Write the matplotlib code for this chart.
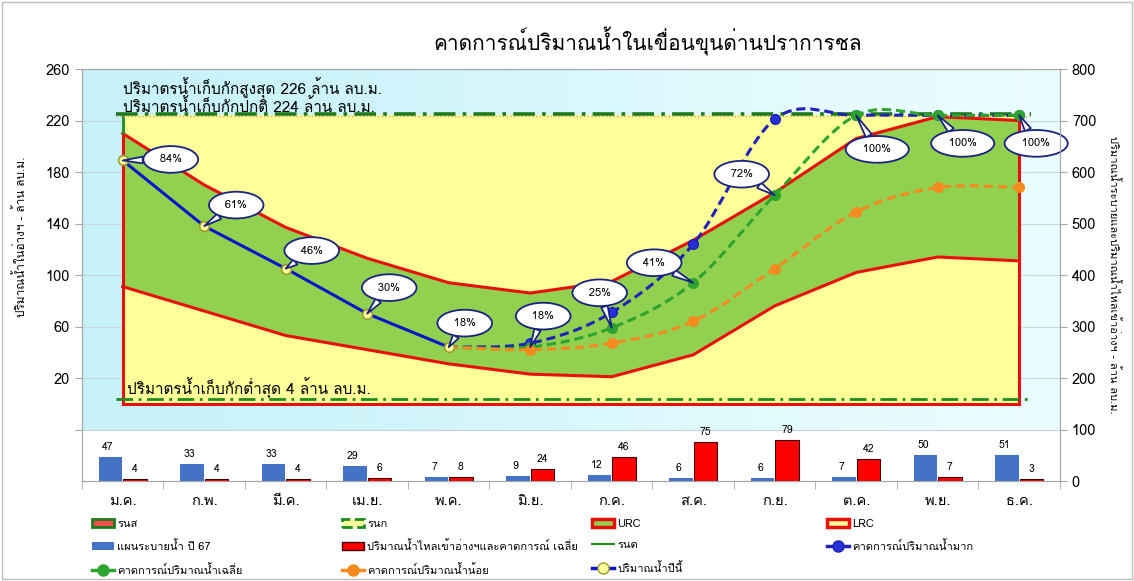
import numpy as np
import matplotlib
matplotlib.use('Agg')
import matplotlib.pyplot as plt
from matplotlib import font_manager as fm
from matplotlib.ft2font import FT2Font
from matplotlib.path import Path
from matplotlib.patches import PathPatch, Patch, Rectangle
from matplotlib.lines import Line2D

# cerco un font che abbia i glifi thai
thai = None
for f in fm.fontManager.ttflist:
    try:
        if FT2Font(f.fname).get_char_index(0x0E01):
            thai = f.name
            break
    except Exception:
        pass
plt.rcParams['font.family'] = [thai, 'DejaVu Sans'] if thai else ['DejaVu Sans']

# dati
months = ['ม.ค.', 'ก.พ.', 'มี.ค.', 'เม.ย.', 'พ.ค.', 'มิ.ย.', 'ก.ค.', 'ส.ค.', 'ก.ย.', 'ต.ค.', 'พ.ย.', 'ธ.ค.']
urc = [210, 170, 137, 113, 94, 86, 95, 127, 164, 206, 223, 220]
lrc = [91, 72, 53, 42, 31, 23, 21, 38, 76, 102, 114, 111]
drain = [47, 33, 33, 29, 7, 9, 12, 6, 6, 7, 50, 51]
inflow = [4, 4, 4, 6, 8, 24, 46, 75, 79, 42, 7, 3]
current = [189, 138, 105, 70, 44]
current_pct = ['84%', '61%', '46%', '30%', '18%']
fc_high = [44, 47, 71, 124, 221, 224, 224, 224]   # da พ.ค. a ธ.ค.
fc_avg = [44, 44, 59, 94, 162, 224, 224, 224]
fc_low = [44, 42, 47, 64, 105, 149, 168, 168]
avg_pct = ['18%', '25%', '41%', '72%', '100%', '100%', '100%']
max_storage = 226
normal_storage = 224
min_storage = 4

x = np.arange(12)
xf = np.arange(4, 12)


def smooth(xs, ys):
    # curva morbida tipo excel (bezier catmull-rom)
    p = np.column_stack([xs, ys]).astype(float)
    n = len(p)
    verts = [p[0]]
    codes = [Path.MOVETO]
    for i in range(n - 1):
        p0 = p[i - 1] if i > 0 else p[i]
        p3 = p[i + 2] if i + 2 < n else p[i + 1]
        verts += [p[i] + (p[i + 1] - p0) / 6, p[i + 1] - (p3 - p[i]) / 6, p[i + 1]]
        codes += [Path.CURVE4] * 3
    return Path(verts, codes)


fig = plt.figure(figsize=(11.34, 5.81), dpi=100)
fig.add_artist(Rectangle((0.002, 0.003), 0.996, 0.994, transform=fig.transFigure,
                         fill=False, ec='#C0C0C0', lw=1))
ax = fig.add_axes([0.0723, 0.1721, 0.8624, 0.7091])
ax.set_xlim(-0.5, 11.5)
ax.set_ylim(-60, 260)

# sfondo azzurro sfumato
grad = np.array([[[0.78, 0.95, 0.98], [0.92, 0.99, 1.0]]])
ax.imshow(grad, extent=(-0.5, 11.5, -20, 260), aspect='auto', interpolation='bicubic', zorder=0)
ax.set_yticks([-20, 20, 60, 100, 140, 180, 220, 260])
ax.set_yticklabels(['', '20', '60', '100', '140', '180', '220', '260'])
ax.grid(axis='y', color='#C9D6DA', lw=0.9, zorder=0.5)
ax.set_axisbelow(True)

# aree
ax.fill_between([0, 11], 0, normal_storage, color='#FFFF99', lw=0, zorder=1)
ax.fill_between(x, lrc, urc, color='#92D050', lw=0, zorder=2)
red = '#E8100C'
ax.plot(x, urc, color=red, lw=2.2, zorder=3)
ax.plot(x, lrc, color=red, lw=2.2, zorder=3)
ax.plot([0, 11], [0, 0], color=red, lw=2.2, zorder=3)
ax.plot([0, 0], [0, urc[0]], color=red, lw=2.2, zorder=3)
ax.plot([11, 11], [0, urc[-1]], color=red, lw=2.2, zorder=3)
ax.plot([0, 0], [urc[0], normal_storage], color='#1E8C1E', lw=2, zorder=3)

# livelli
ax.plot([-0.08, 11.15], [max_storage - 1, max_storage - 1], color='#1E7A1E', lw=2.6,
        dashes=(6, 2, 1, 2), zorder=4)
ax.plot([-0.08, 11.15], [normal_storage - 0.5, normal_storage - 0.5], color='#D8A060', lw=1,
        ls=':', zorder=4)
ax.plot([-0.08, 11.15], [min_storage, min_storage], color='#1E8C1E', lw=2,
        dashes=(6, 2, 1, 2), zorder=4)

# previsioni
ax.add_patch(PathPatch(smooth(xf, fc_high), fill=False, ec='#1F22B5', lw=2.2,
                       ls=(0, (3, 1.6)), zorder=5))
ax.plot(xf[1:], fc_high[1:], 'o', color='#2630D8', mec='#1F22B5', ms=7, zorder=5)
ax.add_patch(PathPatch(smooth(xf, fc_avg), fill=False, ec='#2EA32E', lw=2.2,
                       ls=(0, (3, 1.6)), zorder=6))
ax.plot(xf[1:], fc_avg[1:], 'o', color='#2EA32E', ms=7, zorder=6)
ax.add_patch(PathPatch(smooth(xf, fc_low), fill=False, ec='#F58A1F', lw=2.2,
                       ls=(0, (3, 1.6)), zorder=6))
ax.plot(xf[1:], fc_low[1:], 'o', color='#F58A1F', ms=7, zorder=6)

# anno corrente
ax.plot(x[:5], current, color='#0A14C8', lw=2.2, zorder=7)
ax.plot(x[:5], current, 'o', color='#FFFF99', mec='#9A9A30', ms=7, mew=1.2, zorder=8)

# fumetti
offs_cur = [(48, 1), (32, 21), (26, 18), (22, 26), (16, 24)]
offs_avg = [(13, 31), (-12, 35), (-39, 20), (-33, 21), (21, -34), (25, -28), (17, -28)]
pts = list(zip(x[:5], current, current_pct, offs_cur)) + \
      list(zip(xf[1:], fc_avg[1:], avg_pct, offs_avg))
for px, py, lab, off in pts:
    ax.annotate(' ' + lab + ' ', xy=(px, py), xytext=off, textcoords='offset pixels',
                ha='center', va='center', fontsize=8, zorder=9,
                bbox=dict(boxstyle='ellipse,pad=0.4', fc='white', ec='#1A237E', lw=1.3),
                arrowprops=dict(arrowstyle='wedge,tail_width=0.6,shrink_factor=0.5',
                                fc='white', ec='#1A237E', lw=1.3, shrinkA=0, shrinkB=0))

ax.text(0, 245, 'ปริมาตรน้ำเก็บกักสูงสุด 226 ล้าน ลบ.ม.', fontsize=11, va='center', zorder=9)
ax.text(0, 231, 'ปริมาตรน้ำเก็บกักปกติ 224 ล้าน ลบ.ม.', fontsize=11, va='center', zorder=9)
ax.text(0.05, 12, 'ปริมาตรน้ำเก็บกักต่ำสุด 4 ล้าน ลบ.ม.', fontsize=11, va='center', zorder=9)

# barre sull'asse destro
ax2 = ax.twinx()
ax2.set_ylim(0, 800)
ax2.set_yticks(np.arange(0, 801, 100))
ax2.bar(x - 0.15, drain, 0.29, color='#4472C4', zorder=2)
ax2.bar(x + 0.15, inflow, 0.29, color='#FF0000', ec='#400000', lw=0.8, zorder=2)
for i in range(12):
    ax2.text(x[i] - 0.18, drain[i] + 10, str(drain[i]), ha='center', va='bottom', fontsize=7.5)
    ax2.text(x[i] + 0.15, inflow[i] + 10, str(inflow[i]), ha='center', va='bottom', fontsize=7.5)

for a in (ax, ax2):
    for s in a.spines.values():
        s.set_color('#A6A6A6')
    a.tick_params(axis='y', length=5, color='#A6A6A6', labelsize=10.5)
ax.set_xticks(x)
ax.set_xticklabels(months, fontsize=10.5)
ax.set_xticks(np.arange(-0.5, 12, 1), minor=True)
ax.tick_params(axis='x', which='major', length=0, pad=9)
ax.tick_params(axis='x', which='minor', length=6, color='#A6A6A6')

ax.set_ylabel('ปริมาณน้ำในอ่างฯ - ล้าน ลบ.ม.', fontsize=8.5)
ax.yaxis.set_label_coords(-0.056, 0.592)
ax2.set_ylabel('ปริมาณน้ำระบายและปริมาณน้ำไหลเข้าอ่างฯ - ล้าน ลบ.ม.', fontsize=8,
               rotation=270, va='center')
ax2.yaxis.set_label_coords(1.055, 0.5)

fig.text(0.571, 0.928, 'คาดการณ์ปริมาณน้ำในเขื่อนขุนด่านปราการชล', fontsize=15,
         ha='center', va='center')

# legenda, una colonna alla volta
cols = [
    [Patch(fc='#F05050', ec='#1E7A1E', lw=2, label='รนส'),
     Patch(fc='#4472C4', label='แผนระบายน้ำ ปี 67'),
     Line2D([], [], color='#2EA32E', lw=2.5, marker='o', ms=8, label='คาดการณ์ปริมาณน้ำเฉลี่ย')],
    [Patch(fc='#FFFF99', ec='#1E8C1E', lw=2, ls='--', label='รนก'),
     Patch(fc='#FF0000', ec='#400000', label='ปริมาณน้ำไหลเข้าอ่างฯและคาดการณ์ เฉลี่ย'),
     Line2D([], [], color='#F58A1F', lw=2.5, marker='o', ms=8, label='คาดการณ์ปริมาณน้ำน้อย')],
    [Patch(fc='#92D050', ec=red, lw=2.5, label='URC'),
     Line2D([], [], color='#1E8C1E', lw=1.5, label='รนต'),
     Line2D([], [], color='#0A14C8', lw=2.5, marker='o', mfc='#FFFF99', mec='#9A9A30', ms=8,
            label='ปริมาณน้ำปีนี้')],
    [Patch(fc='#FFFF99', ec=red, lw=2.5, label='LRC'),
     Line2D([], [], color='#1F22B5', lw=2.5, marker='o', mfc='#2630D8', ms=8,
            label='คาดการณ์ปริมาณน้ำมาก')],
]
for cx, hs in zip([86, 336, 586, 821], cols):
    fig.legend(handles=hs, loc='upper left', bbox_to_anchor=(cx / 1134, 1 - 513 / 581),
               frameon=False, fontsize=8, handlelength=2.0, handletextpad=0.3,
               labelspacing=1.05, borderpad=0)

plt.savefig('out.png', dpi=100)
